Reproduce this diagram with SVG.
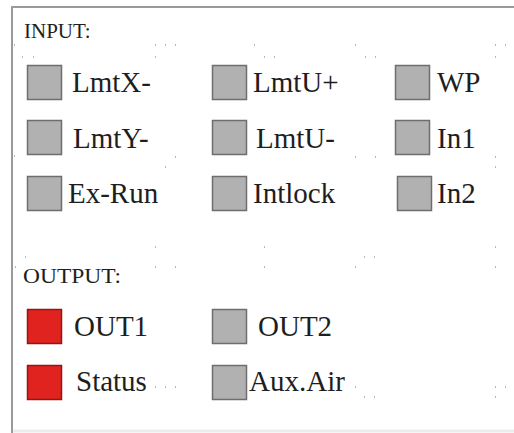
<svg xmlns="http://www.w3.org/2000/svg" width="514" height="433" viewBox="0 0 514 433">
<style>
.t{fill:#1e1e1e;font-size:29px}
.h{font-size:21px}
.g{fill:#b1b1b1;stroke:#6e6e6e;stroke-width:1.5}
.r{fill:#e0231f;stroke:#8a1a16;stroke-width:1.5}
.d{fill:#b8b8b8}
</style>
<rect x="0" y="0" width="514" height="433" fill="#ffffff"/>
<g id="frame">
<line x1="12" y1="7" x2="514" y2="7" stroke="#9a9a9a" stroke-width="2"/>
<line x1="12" y1="6" x2="12" y2="433" stroke="#9a9a9a" stroke-width="2"/>
<line x1="13" y1="431" x2="514" y2="431" stroke="#ececec" stroke-width="3"/>
</g>
<g id="grid-dots">
<rect class="d" x="14" y="44" width="1" height="2"/><rect class="d" x="155" y="44" width="1" height="2"/><rect class="d" x="165" y="44" width="1" height="2"/><rect class="d" x="175" y="44" width="1" height="2"/>
<rect class="d" x="22" y="56" width="1" height="2"/><rect class="d" x="33" y="56" width="1" height="2"/><rect class="d" x="155" y="56" width="1" height="2"/>
<rect class="d" x="254" y="44" width="1" height="2"/><rect class="d" x="264" y="56" width="1" height="2"/><rect class="d" x="274" y="56" width="1" height="2"/>
<rect class="d" x="355" y="44" width="1" height="2"/><rect class="d" x="365" y="56" width="1" height="2"/><rect class="d" x="375" y="56" width="1" height="2"/>
<rect class="d" x="495" y="44" width="1" height="2"/><rect class="d" x="505" y="44" width="1" height="2"/><rect class="d" x="495" y="56" width="1" height="2"/>
<rect class="d" x="14" y="155" width="1" height="2"/><rect class="d" x="175" y="156" width="1" height="2"/><rect class="d" x="165" y="166" width="1" height="2"/>
<rect class="d" x="355" y="156" width="1" height="2"/><rect class="d" x="375" y="156" width="1" height="2"/><rect class="d" x="495" y="156" width="1" height="2"/><rect class="d" x="495" y="166" width="1" height="2"/>
<rect class="d" x="155" y="246" width="1" height="2"/><rect class="d" x="155" y="266" width="1" height="2"/><rect class="d" x="175" y="266" width="1" height="2"/><rect class="d" x="25" y="256" width="1" height="2"/><rect class="d" x="15" y="266" width="1" height="2"/>
<rect class="d" x="264" y="246" width="1" height="2"/><rect class="d" x="264" y="266" width="1" height="2"/><rect class="d" x="364" y="256" width="1" height="2"/><rect class="d" x="374" y="256" width="1" height="2"/><rect class="d" x="355" y="266" width="1" height="2"/><rect class="d" x="495" y="246" width="1" height="2"/><rect class="d" x="495" y="266" width="1" height="2"/>
<rect class="d" x="155" y="386" width="1" height="2"/><rect class="d" x="165" y="386" width="1" height="2"/><rect class="d" x="175" y="386" width="1" height="2"/>
<rect class="d" x="355" y="386" width="1" height="2"/><rect class="d" x="364" y="396" width="1" height="2"/><rect class="d" x="374" y="396" width="1" height="2"/><rect class="d" x="495" y="386" width="1" height="2"/><rect class="d" x="505" y="386" width="1" height="2"/><rect class="d" x="495" y="396" width="1" height="2"/>
</g>
<g font-family="Liberation Serif, serif">
<text class="t h" x="24" y="38">INPUT:</text>
<text class="t h" x="23" y="283" textLength="98" lengthAdjust="spacingAndGlyphs">OUTPUT:</text>
<g id="n-lmtxm"><rect class="g" x="27.5" y="65.5" width="34" height="34"/><text class="t" x="72" y="92">LmtX-</text></g>
<g id="n-lmtym"><rect class="g" x="27.5" y="120.5" width="34" height="34"/><text class="t" x="73" y="148">LmtY-</text></g>
<g id="n-exrun"><rect class="g" x="27.5" y="176.5" width="34" height="34"/><text class="t" x="68" y="203">Ex-Run</text></g>
<g id="n-lmtup"><rect class="g" x="212.5" y="65.5" width="34" height="34"/><text class="t" x="253" y="92">LmtU+</text></g>
<g id="n-lmtum"><rect class="g" x="212.5" y="120.5" width="34" height="34"/><text class="t" x="256" y="148">LmtU-</text></g>
<g id="n-intlock"><rect class="g" x="212.5" y="176.5" width="34" height="34"/><text class="t" x="253" y="203">Intlock</text></g>
<g id="n-wp"><rect class="g" x="395.5" y="65.5" width="34" height="34"/><text class="t" x="437" y="92">WP</text></g>
<g id="n-in1"><rect class="g" x="395.5" y="120.5" width="34" height="34"/><text class="t" x="437" y="148">In1</text></g>
<g id="n-in2"><rect class="g" x="397.5" y="176.5" width="34" height="34"/><text class="t" x="437" y="203">In2</text></g>
<g id="n-out1"><rect class="r" x="27.5" y="309.5" width="34" height="34"/><text class="t" x="74" y="336">OUT1</text></g>
<g id="n-status"><rect class="r" x="27.5" y="365.5" width="34" height="34"/><text class="t" x="76" y="391">Status</text></g>
<g id="n-out2"><rect class="g" x="212.5" y="309.5" width="34" height="34"/><text class="t" x="258" y="336">OUT2</text></g>
<g id="n-auxair"><rect class="g" x="212.5" y="365.5" width="34" height="34"/><text class="t" x="249" y="391">Aux.Air</text></g>
</g>
<g id="connectors"/>
</svg>
